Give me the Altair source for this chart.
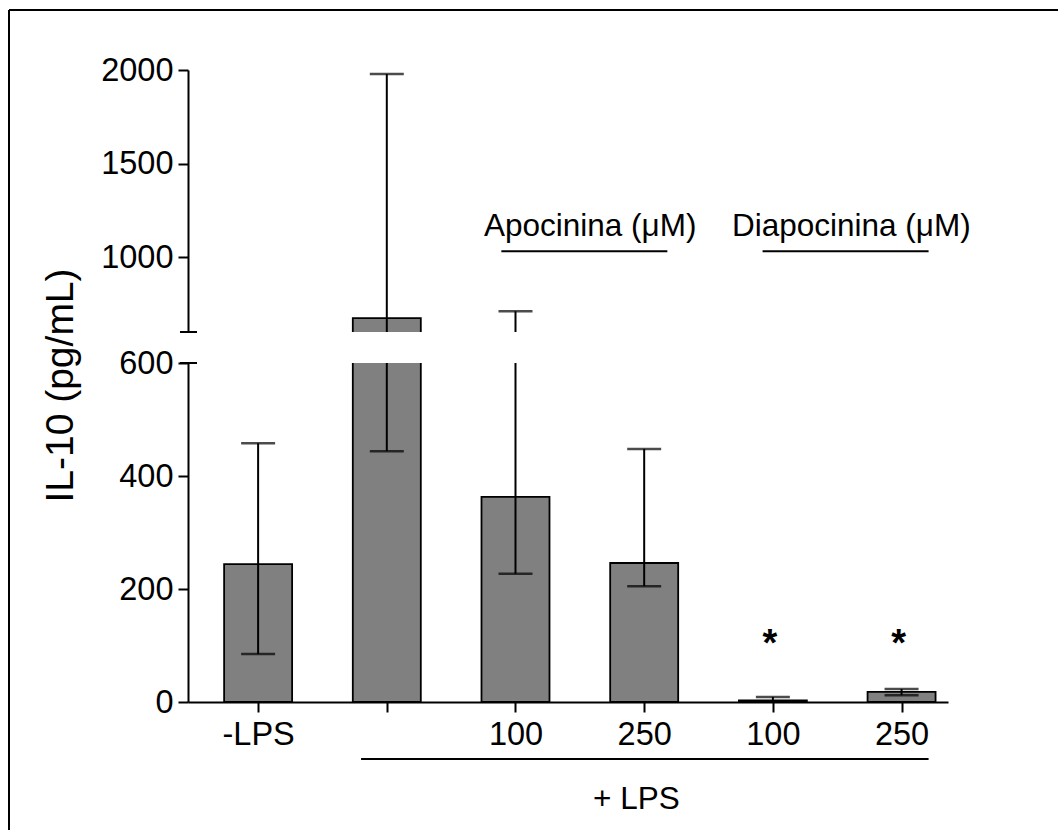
import json
import altair as alt
import pandas as pd

# IL-10 levels per treatment group (pg/mL): bar height and error-bar ends
groups = ["-LPS", "+LPS", "Apocinina 100", "Apocinina 250", "Diapocinina 100", "Diapocinina 250"]
tick_labels = ["-LPS", "", "100", "250", "100", "250"]
il10_mean = [244, 674, 363, 246, 3, 18]
il10_low = [85, 444, 227, 205, 0, 12]
il10_high = [458, 1979, 711, 448, 9, 23]

# significance markers
star_group = [4, 5]
star_level = [81, 81]

# treatment brackets above the bars
bracket_text = ["Apocinina (μM)", "Diapocinina (μM)"]
bracket_from = [1.89, 3.92]
bracket_to = [3.18, 5.21]
bracket_text_at = [2.58, 4.61]
bracket_line = [1032, 1032]
bracket_label = [1112, 1112]

# "+ LPS" bracket below the axis
lps_text = ["+ LPS"]
lps_from = [0.80]
lps_to = [5.21]
lps_text_at = [2.94]

FONT = "Liberation Sans"
GRAY = "#808080"
W = 760
H_TOP, H_BOTTOM, GAP = 262, 339, 31

df = pd.DataFrame({
    "pos": list(range(len(groups))),
    "group": groups,
    "mean": il10_mean,
    "low": il10_low,
    "high": il10_high,
    "base": [0] * len(groups),
})
stars = pd.DataFrame({"pos": star_group, "y": star_level, "t": ["*"] * len(star_group)})
brackets = pd.DataFrame({
    "text": bracket_text,
    "x1": bracket_from,
    "x2": bracket_to,
    "mid": bracket_text_at,
    "line": bracket_line,
    "label": bracket_label,
})
lps = pd.DataFrame({
    "text": lps_text,
    "x1": lps_from,
    "x2": lps_to,
    "mid": lps_text_at,
})
one = pd.DataFrame({"k": [0]})

x_scale = alt.Scale(domain=[-0.506, 5.322], nice=False, zero=False)
y_top = alt.Scale(domain=[600, 2000], nice=False, zero=False)
y_bot = alt.Scale(domain=[0, 600], nice=False)

label_expr = json.dumps(tick_labels) + "[datum.value]"


def data_layers(y_scale, y_axis, x_axis):
    base = alt.Chart(df)
    bars = base.mark_bar(clip=True, width=68, fill=GRAY, stroke="black", strokeWidth=1.8).encode(
        x=alt.X("pos:Q", scale=x_scale, axis=x_axis),
        y=alt.Y("mean:Q", scale=y_scale, axis=y_axis),
        y2="base:Q",
    )
    whisker = base.mark_rule(clip=True, color="black", strokeWidth=2).encode(
        x=alt.X("pos:Q", scale=x_scale),
        y=alt.Y("low:Q", scale=y_scale),
        y2="high:Q",
    )
    cap_hi = base.mark_tick(clip=True, orient="horizontal", size=34, thickness=2.5, color="black").encode(
        x=alt.X("pos:Q", scale=x_scale),
        y=alt.Y("high:Q", scale=y_scale),
    )
    cap_lo = base.mark_tick(clip=True, orient="horizontal", size=34, thickness=2.5, color="black").encode(
        x=alt.X("pos:Q", scale=x_scale),
        y=alt.Y("low:Q", scale=y_scale),
    )
    return [bars, whisker, cap_hi, cap_lo]


# ---- upper segment (600 - 2000) ----
top_axis = alt.Axis(values=[1000, 1500, 2000], format="d", title=None, grid=False)
top_layers = data_layers(y_top, top_axis, None)

top_break = alt.Chart(one).mark_rule(color="black", strokeWidth=2).encode(
    x=alt.value(-8), x2=alt.value(9), y=alt.Y(datum=600, scale=y_top)
)
br = alt.Chart(brackets)
bracket_rules = br.mark_rule(color="black", strokeWidth=2).encode(
    x=alt.X("x1:Q", scale=x_scale), x2="x2:Q", y=alt.Y("line:Q", scale=y_top)
)
bracket_labels = br.mark_text(font=FONT, fontSize=31.5, color="black", baseline="alphabetic").encode(
    x=alt.X("mid:Q", scale=x_scale), y=alt.Y("label:Q", scale=y_top), text="text:N"
)

upper = alt.layer(*top_layers, top_break, bracket_rules, bracket_labels).properties(
    width=W, height=H_TOP
)

# ---- lower segment (0 - 600) ----
bottom_x_axis = alt.Axis(
    values=list(range(len(groups))), labelExpr=label_expr, title=None, grid=False,
    labelPadding=6,
)
bottom_y_axis = alt.Axis(
    values=[0, 200, 400, 600], format="d", grid=False, title="IL-10 (pg/mL)",
    titleFontSize=39, titleFontWeight="normal", titleFont=FONT, titleColor="black",
    titleAngle=270, titleAlign="center", titleBaseline="alphabetic",
    titleX=-116, titleY=22,
)
bottom_layers = data_layers(y_bot, bottom_y_axis, bottom_x_axis)

bottom_break = alt.Chart(one).mark_rule(color="black", strokeWidth=2).encode(
    x=alt.value(-8), x2=alt.value(9), y=alt.Y(datum=600, scale=y_bot)
)
star_marks = alt.Chart(stars).mark_text(
    font=FONT, fontSize=38, fontWeight="bold", color="black", baseline="alphabetic", dx=-3
).encode(
    x=alt.X("pos:Q", scale=x_scale), y=alt.Y("y:Q", scale=y_bot), text="t:N"
)
lp = alt.Chart(lps)
lps_rule = lp.mark_rule(color="black", strokeWidth=2).encode(
    x=alt.X("x1:Q", scale=x_scale), x2="x2:Q", y=alt.value(396)
)
lps_label = lp.mark_text(font=FONT, fontSize=31.5, color="black", baseline="alphabetic").encode(
    x=alt.X("mid:Q", scale=x_scale), y=alt.value(446), text="text:N"
)

# outer frame (top and left edges)
frame_top = alt.Chart(one).mark_rule(color="black", strokeWidth=2).encode(
    x=alt.value(-179), x2=alt.value(870), y=alt.value(-353)
)
frame_left = alt.Chart(one).mark_rule(color="black", strokeWidth=2).encode(
    x=alt.value(-179), y=alt.value(-353), y2=alt.value(467)
)

lower = alt.layer(
    *bottom_layers, bottom_break, star_marks, lps_rule, lps_label, frame_top, frame_left
).properties(width=W, height=H_BOTTOM)

chart = (
    alt.vconcat(upper, lower, spacing=GAP, bounds="flush")
    .configure(font=FONT, background="white", padding={"left": 8, "top": 9, "right": 0, "bottom": 0})
    .configure_view(stroke=None)
    .configure_axis(
        domainColor="black", domainWidth=2, tickColor="black", tickWidth=2, tickSize=10,
        labelFont=FONT, labelFontSize=32.5, labelColor="black", labelPadding=5,
    )
)

chart.save("out.html", embed_options={"renderer": "svg", "actions": False})
